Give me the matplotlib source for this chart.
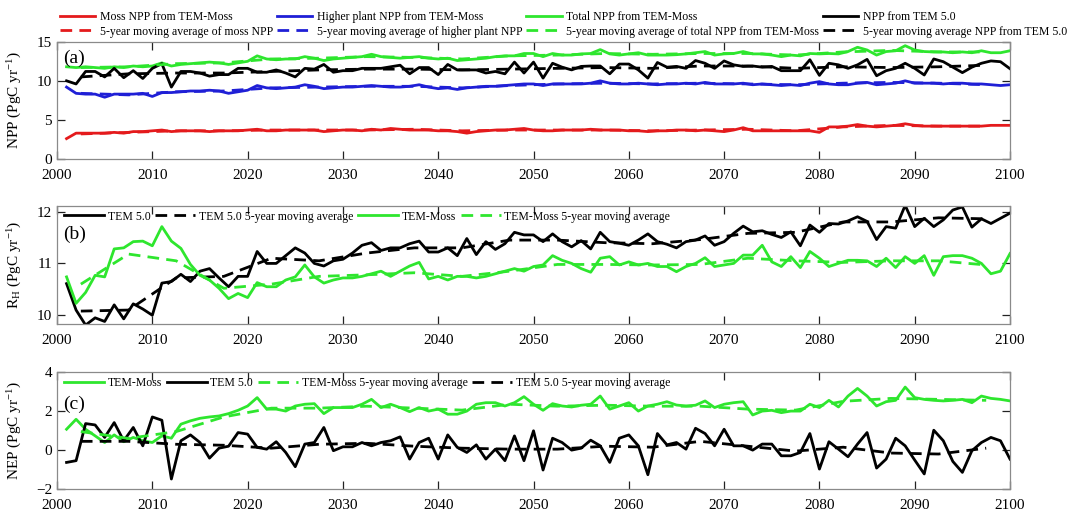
import numpy as np
import matplotlib
matplotlib.use("Agg")
import matplotlib.pyplot as plt
from matplotlib.lines import Line2D

plt.rcParams['font.family'] = ['Liberation Serif', 'DejaVu Serif']
plt.rcParams['mathtext.fontset'] = 'custom'
plt.rcParams['mathtext.rm'] = 'Liberation Serif'
plt.rcParams['mathtext.it'] = 'Liberation Serif:italic'

# ---------------- data ----------------
years = np.arange(2001, 2101)
ma_years = np.arange(2002.5, 2100, 5)   # centres of the 5-year averaging windows

# (a) NPP, PgC/yr
moss_npp = [2.6, 3.3, 3.3, 3.3, 3.3, 3.4, 3.3, 3.5, 3.5, 3.6,
            3.7, 3.5, 3.6, 3.6, 3.6, 3.5, 3.6, 3.6, 3.6, 3.7,
            3.8, 3.6, 3.6, 3.7, 3.7, 3.7, 3.7, 3.5, 3.6, 3.7,
            3.7, 3.6, 3.8, 3.7, 3.9, 3.8, 3.7, 3.7, 3.7, 3.6,
            3.6, 3.5, 3.3, 3.5, 3.6, 3.7, 3.7, 3.8, 3.9, 3.7,
            3.6, 3.6, 3.7, 3.7, 3.7, 3.8, 3.7, 3.7, 3.7, 3.6,
            3.6, 3.5, 3.6, 3.6, 3.7, 3.7, 3.6, 3.7, 3.6, 3.5,
            3.7, 4.0, 3.6, 3.6, 3.6, 3.6, 3.6, 3.6, 3.6, 3.4,
            4.1, 4.1, 4.2, 4.4, 4.2, 4.1, 4.2, 4.3, 4.5, 4.3,
            4.2, 4.2, 4.2, 4.2, 4.2, 4.2, 4.2, 4.3, 4.3, 4.3]
higher_npp = [9.2, 8.4, 8.3, 8.3, 7.9, 8.3, 8.3, 8.3, 8.4, 8.0,
              8.5, 8.5, 8.6, 8.7, 8.7, 8.8, 8.7, 8.4, 8.6, 8.8,
              9.4, 9.1, 9.0, 9.1, 9.2, 9.5, 9.3, 9.0, 9.1, 9.2,
              9.2, 9.3, 9.4, 9.3, 9.2, 9.2, 9.3, 9.5, 9.2, 9.0,
              9.1, 8.9, 9.1, 9.2, 9.3, 9.3, 9.4, 9.5, 9.6, 9.6,
              9.4, 9.6, 9.6, 9.6, 9.6, 9.7, 10.0, 9.7, 9.6, 9.6,
              9.7, 9.6, 9.5, 9.6, 9.6, 9.7, 9.6, 9.8, 9.6, 9.6,
              9.6, 9.7, 9.5, 9.6, 9.5, 9.4, 9.5, 9.4, 9.7, 9.9,
              9.6, 9.5, 9.5, 9.7, 9.8, 9.5, 9.6, 9.7, 10.0, 9.7,
              9.7, 9.7, 9.6, 9.7, 9.7, 9.6, 9.6, 9.5, 9.4, 9.5]
total_npp = [11.8, 11.7, 11.8, 11.7, 11.6, 11.8, 11.7, 11.9, 11.8, 11.9,
             12.3, 11.9, 12.1, 12.2, 12.3, 12.4, 12.3, 12.1, 12.3, 12.5,
             13.2, 12.8, 12.7, 12.8, 12.8, 13.1, 12.9, 12.6, 12.8, 12.9,
             13.0, 13.1, 13.4, 13.1, 13.0, 12.9, 13.0, 13.1, 12.9, 12.8,
             12.9, 12.6, 12.7, 12.8, 12.9, 13.1, 13.2, 13.2, 13.5, 13.5,
             13.1, 13.5, 13.3, 13.3, 13.45, 13.5, 14.0, 13.45, 13.3, 13.45,
             13.6, 13.3, 13.3, 13.3, 13.35, 13.45, 13.6, 13.75, 13.3, 13.45,
             13.5, 13.75, 13.45, 13.45, 13.3, 13.1, 13.3, 13.2, 13.5, 13.45,
             13.5, 13.45, 13.75, 14.3, 13.95, 13.3, 13.75, 13.85, 14.5, 13.95,
             13.75, 13.7, 13.7, 13.6, 13.7, 13.6, 13.85, 13.6, 13.6, 13.85]
tem5_npp = [10.0, 9.6, 11.2, 11.2, 10.5, 11.6, 10.4, 11.3, 10.3, 11.6,
            12.2, 9.2, 11.2, 11.2, 11.0, 10.6, 10.8, 10.8, 11.6, 11.6,
            11.1, 11.1, 11.4, 11.0, 10.5, 11.6, 11.5, 12.1, 11.1, 11.3,
            11.3, 11.6, 11.6, 11.6, 11.8, 12.0, 10.9, 11.7, 11.7, 10.8,
            12.1, 11.4, 11.4, 11.4, 11.0, 11.2, 10.9, 12.4, 11.0, 12.4,
            10.35, 12.25, 11.75, 11.4, 11.85, 11.9, 11.9, 10.9, 12.15, 12.15,
            11.4, 10.35, 12.35, 11.75, 11.85, 11.6, 12.6, 12.25, 11.6, 12.55,
            12.05, 11.85, 11.9, 11.75, 11.85, 11.3, 11.3, 11.3, 12.7, 10.7,
            12.25, 12.05, 11.6, 12.05, 12.75, 10.65, 11.3, 11.6, 12.25, 11.6,
            10.75, 12.8, 12.45, 11.75, 11.05, 11.75, 12.25, 12.55, 12.45, 11.55]
moss_npp_ma = [3.2, 3.4, 3.6, 3.6, 3.7, 3.7, 3.7, 3.8, 3.6, 3.7,
               3.7, 3.7, 3.6, 3.7, 3.8, 3.6, 4.1, 4.3, 4.2, 4.2]
higher_npp_ma = [8.4, 8.2, 8.6, 8.7, 9.1, 9.2, 9.3, 9.3, 9.1, 9.4,
                 9.6, 9.7, 9.6, 9.7, 9.6, 9.5, 9.7, 9.8, 9.7, 9.5]
total_npp_ma = [11.7, 11.8, 12.2, 12.3, 12.8, 12.9, 13.1, 13.0, 12.8, 13.2,
                13.3, 13.5, 13.4, 13.5, 13.5, 13.3, 13.7, 13.9, 13.7, 13.7]
tem5_npp_ma = [10.5, 10.9, 11.0, 11.0, 11.2, 11.4, 11.5, 11.5, 11.4, 11.5,
               11.6, 11.7, 11.6, 11.9, 11.9, 11.6, 11.8, 11.7, 11.8, 12.0]

# (b) heterotrophic respiration, PgC/yr
rh_tem5 = [10.61, 10.1, 9.81, 9.95, 9.88, 10.2, 9.93, 10.22, 10.12, 10.0,
           10.62, 10.65, 10.79, 10.65, 10.85, 10.9, 10.72, 10.55, 10.75, 10.75,
           11.23, 11.0, 11.0, 11.15, 11.3, 11.2, 11.0, 10.95, 11.05, 11.08,
           11.2, 11.35, 11.4, 11.25, 11.3, 11.3, 11.38, 11.43, 11.22, 11.22,
           11.3, 11.15, 11.48, 11.17, 11.42, 11.27, 11.38, 11.6, 11.55, 11.55,
           11.42, 11.57, 11.42, 11.32, 11.44, 11.28, 11.6, 11.42, 11.39, 11.35,
           11.45, 11.57, 11.42, 11.37, 11.3, 11.42, 11.45, 11.53, 11.35, 11.42,
           11.58, 11.72, 11.61, 11.63, 11.56, 11.5, 11.61, 11.34, 11.74, 11.6,
           11.77, 11.76, 11.82, 11.9, 11.81, 11.46, 11.71, 11.68, 12.12, 11.71,
           11.87, 11.71, 11.84, 12.03, 12.09, 11.7, 11.86, 11.77, 11.87, 11.97]
rh_moss = [10.74, 10.23, 10.44, 10.77, 10.74, 11.28, 11.3, 11.42, 11.43, 11.34,
           11.71, 11.43, 11.29, 10.98, 10.77, 10.68, 10.52, 10.32, 10.42, 10.34,
           10.63, 10.55, 10.55, 10.68, 10.74, 10.97, 10.74, 10.62, 10.68, 10.72,
           10.72, 10.75, 10.8, 10.85, 10.75, 10.85, 10.95, 11.02, 10.7, 10.75,
           10.68, 10.75, 10.75, 10.72, 10.75, 10.8, 10.85, 10.9, 10.85, 10.94,
           10.97, 11.15, 11.06, 11.0, 10.9, 10.83, 11.1, 11.13, 10.97, 11.03,
           10.97, 11.0, 10.94, 10.94, 10.84, 10.94, 11.0, 11.11, 10.94, 10.97,
           11.0, 11.16, 11.16, 11.35, 11.03, 10.94, 11.13, 10.92, 11.23, 11.1,
           10.94, 11.0, 11.06, 11.06, 11.05, 10.94, 11.1, 10.92, 11.13, 11.0,
           11.15, 10.77, 11.13, 11.15, 11.15, 11.1, 11.0, 10.8, 10.85, 11.19]
rh_tem5_ma = [10.08, 10.1, 10.72, 10.75, 11.1, 11.05, 11.2, 11.3, 11.3, 11.45,
              11.45, 11.4, 11.38, 11.46, 11.58, 11.6, 11.8, 11.8, 11.88, 11.86]
rh_moss_ma = [10.6, 11.18, 11.05, 10.52, 10.6, 10.75, 10.78, 10.82, 10.75, 10.85,
              10.98, 10.98, 10.97, 10.98, 11.1, 11.05, 11.02, 11.05, 11.05, 10.97]

# (c) NEP, PgC/yr
nep_moss = [1.07, 1.58, 1.07, 0.73, 0.39, 0.78, 0.43, 0.65, 0.48, 0.39,
            0.73, 0.61, 1.33, 1.5, 1.63, 1.7, 1.75, 1.87, 2.04, 2.26,
            2.69, 2.1, 2.1, 2.0, 2.26, 2.35, 2.38, 1.87, 2.18, 2.18,
            2.18, 2.35, 2.6, 2.18, 2.35, 2.18, 1.97, 2.18, 2.0, 2.1,
            1.84, 1.84, 2.0, 2.35, 2.43, 2.43, 2.26, 2.43, 2.74, 2.35,
            2.04, 2.38, 2.26, 2.21, 2.3, 2.35, 2.77, 2.1, 2.26, 2.43,
            2.0, 2.26, 2.35, 2.48, 2.31, 2.26, 2.3, 2.52, 2.18, 2.35,
            2.43, 2.48, 1.8, 2.0, 2.04, 1.92, 2.0, 2.0, 2.35, 2.18,
            2.55, 2.21, 2.77, 3.16, 2.77, 2.26, 2.48, 2.55, 3.23, 2.69,
            2.6, 2.55, 2.52, 2.55, 2.6, 2.43, 2.77, 2.65, 2.6, 2.52]
nep_tem5 = [-0.63, -0.54, 1.36, 1.29, 0.65, 1.41, 0.48, 1.16, 0.22, 1.7,
            1.53, -1.48, 0.48, 0.78, 0.39, -0.41, 0.1, 0.2, 0.9, 0.82,
            0.14, 0.05, 0.43, -0.12, -0.85, 0.31, 0.39, 1.16, -0.03, 0.17,
            0.17, 0.39, 0.22, 0.39, 0.48, 0.68, -0.46, 0.39, 0.61, -0.46,
            0.78, 0.14, -0.12, 0.27, -0.46, 0.05, -0.54, 0.73, -0.54, 0.99,
            -1.02, 0.61, 0.39, 0.0, 0.1, 0.51, 0.22, -0.63, 0.61, 0.78,
            0.22, -1.26, 0.85, 0.27, 0.39, 0.05, 1.12, 0.85, 0.22, 1.07,
            0.22, 0.22, 0.0, 0.31, 0.31, -0.29, -0.29, -0.12, 0.85, -0.97,
            0.43, 0.05, -0.34, 0.31, 0.9, -0.92, -0.46, 0.61, 0.22, -0.51,
            -1.22, 1.02, 0.48, -0.58, -1.14, -0.03, 0.39, 0.65, 0.48, -0.46]
nep_moss_ma = [0.95, 0.6, 0.95, 1.7, 2.15, 2.15, 2.25, 2.15, 2.05, 2.35,
               2.25, 2.3, 2.25, 2.25, 2.1, 2.05, 2.5, 2.65, 2.6, 2.55]
nep_tem5_ma = [0.45, 0.45, 0.3, 0.25, 0.1, 0.3, 0.35, 0.2, 0.1, 0.05,
               0.05, 0.2, 0.15, 0.45, 0.2, -0.05, 0.15, -0.15, -0.2, 0.1]

# ---------------- styling ----------------
RED = '#e41a1c'
BLUE = '#1f1fd6'
GREEN = '#2ee62e'
BLACK = 'black'
LW = 2.0
DASH = (0, (4.2, 2.6))
LEG_FS = 8.5

fig = plt.figure(figsize=(10.8, 5.16), dpi=100)
left, width = 0.0528, 0.8824
ax_a = fig.add_axes([left, 0.692, width, 0.227])
ax_b = fig.add_axes([left, 0.372, width, 0.229])
ax_c = fig.add_axes([left, 0.052, width, 0.227])


def style(ax, ylim, yticks):
    ax.set_xlim(2000, 2100)
    ax.set_xticks(np.arange(2000, 2101, 10))
    ax.set_ylim(*ylim)
    ax.set_yticks(yticks)
    ax.tick_params(direction='in', top=True, right=True, length=6,
                   width=0.9, labelsize=11, color='#222222')
    ax.tick_params(axis='x', pad=7)
    ax.tick_params(axis='y', pad=3.5)
    for s in ax.spines.values():
        s.set_color('#8a8a8a')
        s.set_linewidth(0.9)
    ax.yaxis.set_label_coords(-0.035, 0.5)


# panel (a)
ax_a.plot(years, moss_npp, color=RED, lw=LW)
ax_a.plot(years, higher_npp, color=BLUE, lw=LW)
ax_a.plot(years, total_npp, color=GREEN, lw=LW)
ax_a.plot(years, tem5_npp, color=BLACK, lw=LW)
ax_a.plot(ma_years, moss_npp_ma, color=RED, lw=LW, ls=DASH)
ax_a.plot(ma_years, higher_npp_ma, color=BLUE, lw=LW, ls=DASH)
ax_a.plot(ma_years, total_npp_ma, color=GREEN, lw=LW, ls=DASH)
ax_a.plot(ma_years, tem5_npp_ma, color=BLACK, lw=LW, ls=DASH)
style(ax_a, (0, 15), [0, 5, 10, 15])
ax_a.set_ylabel('NPP (PgC yr$^{-1}$)', fontsize=11)
ax_a.text(0.006, 0.93, '(a)', transform=ax_a.transAxes, fontsize=14, va='top')

legend_a = [
    (Line2D([], [], color=RED, lw=LW), 'Moss NPP from TEM-Moss'),
    (Line2D([], [], color=RED, lw=LW, ls=DASH), '5-year moving average of moss NPP'),
    (Line2D([], [], color=BLUE, lw=LW), 'Higher plant NPP from TEM-Moss'),
    (Line2D([], [], color=BLUE, lw=LW, ls=DASH), '5-year moving average of higher plant NPP'),
    (Line2D([], [], color=GREEN, lw=LW), 'Total NPP from TEM-Moss'),
    (Line2D([], [], color=GREEN, lw=LW, ls=DASH), '5-year moving average of total NPP from TEM-Moss'),
    (Line2D([], [], color=BLACK, lw=LW), 'NPP from TEM 5.0'),
    (Line2D([], [], color=BLACK, lw=LW, ls=DASH), '5-year moving average NPP from TEM 5.0'),
]
fig.legend([h for h, _ in legend_a], [t for _, t in legend_a], ncol=4,
           loc='upper left', bbox_to_anchor=(0.049, 0.992), frameon=False,
           fontsize=LEG_FS, handlelength=3.0, handletextpad=0.4,
           columnspacing=0.3, labelspacing=0.2, borderaxespad=0.2)

# panel (b)
ax_b.plot(years, rh_tem5, color=BLACK, lw=LW, label='TEM 5.0')
ax_b.plot(ma_years, rh_tem5_ma, color=BLACK, lw=LW, ls=DASH,
          label='TEM 5.0 5-year moving average')
ax_b.plot(years, rh_moss, color=GREEN, lw=LW, label='TEM-Moss')
ax_b.plot(ma_years, rh_moss_ma, color=GREEN, lw=LW, ls=DASH,
          label='TEM-Moss 5-year moving average')
style(ax_b, (9.83, 12.11), [10, 11, 12])
ax_b.set_ylabel(r'R$_{\rm H}$ (PgC yr$^{-1}$)', fontsize=11)
ax_b.text(0.006, 0.83, '(b)', transform=ax_b.transAxes, fontsize=14, va='top')
ax_b.legend(ncol=4, loc='upper left', bbox_to_anchor=(0.0, 1.02), frameon=False,
            fontsize=LEG_FS, handlelength=3.4, handletextpad=0.3, columnspacing=0.4,
            borderaxespad=0.2)

# panel (c)
ax_c.plot(years, nep_moss, color=GREEN, lw=LW, label='TEM-Moss')
ax_c.plot(years, nep_tem5, color=BLACK, lw=LW, label='TEM 5.0')
ax_c.plot(ma_years, nep_moss_ma, color=GREEN, lw=LW, ls=DASH,
          label='TEM-Moss 5-year moving average')
ax_c.plot(ma_years, nep_tem5_ma, color=BLACK, lw=LW, ls=DASH,
          label='TEM 5.0 5-year moving average')
style(ax_c, (-2, 4), [-2, 0, 2, 4])
ax_c.set_ylabel('NEP (PgC yr$^{-1}$)', fontsize=11)
ax_c.text(0.006, 0.80, '(c)', transform=ax_c.transAxes, fontsize=14, va='top')
ax_c.legend(ncol=4, loc='upper left', bbox_to_anchor=(0.0, 1.02), frameon=False,
            fontsize=LEG_FS, handlelength=3.4, handletextpad=0.3, columnspacing=0.4,
            borderaxespad=0.2)

fig.savefig('out.png', dpi=100)
